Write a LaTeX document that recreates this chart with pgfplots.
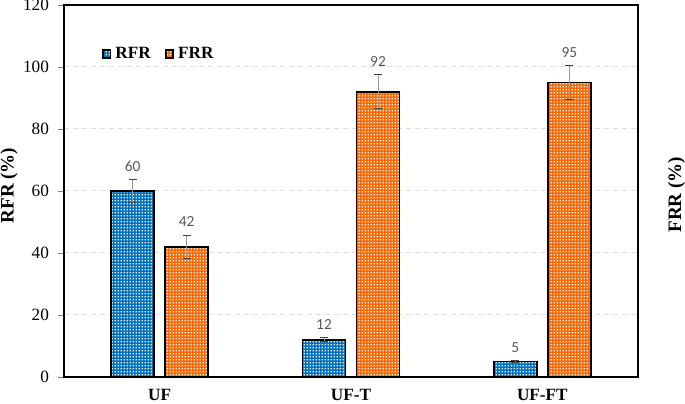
\documentclass[border=0pt]{standalone}
\usepackage{fontspec}
\setmainfont{Liberation Serif}
\newfontfamily\calibri{Carlito}
\usepackage{pgfplots}
\pgfplotsset{compat=1.18}
\usepackage{pgfplotstable}
\usetikzlibrary{patterns}
\pgfdeclarepatternformonly{wdots}{\pgfpointorigin}{\pgfpoint{1.6pt}{1.6pt}}{\pgfpoint{1.6pt}{1.6pt}}{\pgfpathrectangle{\pgfpoint{0.4pt}{0.4pt}}{\pgfpoint{0.8pt}{0.8pt}}\pgfusepath{fill}}
\definecolor{rfrblue}{RGB}{0,112,192}
\definecolor{frrorange}{RGB}{255,102,0}
\definecolor{vallab}{RGB}{89,89,89}
\pgfplotstableread{
x rfr rfre frr frre
0 60 3.6 42 3.8
1 12 0.7 92 5.5
2 5 0.3 95 5.6
}\data

\begin{document}
\begin{tikzpicture}
\begin{axis}[
 width=287pt, height=186pt, scale only axis,
 xmin=-0.5, xmax=2.5, ymin=0, ymax=120,
 ytick={0,20,...,120},
 xtick={0,1,2}, xticklabels={UF,UF-T,UF-FT},
 xticklabel style={font=\bfseries\fontsize{8.6}{10}\selectfont, yshift=0.5pt},
 yticklabel style={font=\fontsize{8.6}{10}\selectfont, xshift=-1pt},
 /pgf/number format/assume math mode=true,
 ytick pos=left,
 tick align=outside,
 major tick length=3pt,
 xtick style={draw=none},
 axis line style={line width=0.8pt},
 ymajorgrids, grid style={dash pattern=on 2.5pt off 2pt, line width=0.5pt, color=black!13},
 ybar=5.5pt, bar width=21.5pt,
 legend style={at={(0.055,0.868)}, anchor=west, draw=none, fill=none, legend columns=2,
   font=\bfseries\fontsize{8.6}{10}\selectfont,
   /tikz/every even column/.append style={column sep=5pt}},
 legend image code/.code={\draw[#1, line width=0.9pt] (0pt,-1.9pt) rectangle (3.8pt,1.9pt);},
 nodes near coords,
 every node near coord/.append style={font=\calibri\fontsize{7.7}{9}\selectfont, text=vallab},
]
\addplot[fill=rfrblue, draw=black, line width=0.75pt,
  postaction={pattern=wdots, pattern color=white},
  visualization depends on={\thisrow{rfre} \as \err},
  every node near coord/.append style={yshift=\err*1.55pt+0.3pt},
  error bars/.cd, y dir=both, y explicit,
  error bar style={color=black!40, line width=0.5pt},
  error mark options={rotate=90, mark size=2pt, color=black!75, line width=0.5pt}]
  table[x=x, y=rfr, y error=rfre] {\data};
\addplot[fill=frrorange, draw=black, line width=0.75pt,
  postaction={pattern=wdots, pattern color=white},
  visualization depends on={\thisrow{frre} \as \err},
  every node near coord/.append style={yshift=\err*1.55pt+0.3pt},
  error bars/.cd, y dir=both, y explicit,
  error bar style={color=black!40, line width=0.5pt},
  error mark options={rotate=90, mark size=2pt, color=black!75, line width=0.5pt}]
  table[x=x, y=frr, y error=frre] {\data};
\legend{RFR, FRR}
\coordinate (bl) at (rel axis cs:0,0);
\coordinate (tr) at (rel axis cs:1,1);
\coordinate (ml) at (rel axis cs:0,0.515);
\coordinate (mr) at (rel axis cs:1,0.49);
\end{axis}
\pgfresetboundingbox
\path[use as bounding box] ([shift={(-32pt,-13.5pt)}]bl) rectangle ([shift={(23.5pt,2.5pt)}]tr);
\node[rotate=90, font=\bfseries\fontsize{9.5}{11}\selectfont] at ([xshift=-27.5pt]ml) {RFR (\%)};
\node[rotate=90, font=\bfseries\fontsize{9.5}{11}\selectfont] at ([xshift=19.3pt]mr) {FRR (\%)};
\end{tikzpicture}
\end{document}
